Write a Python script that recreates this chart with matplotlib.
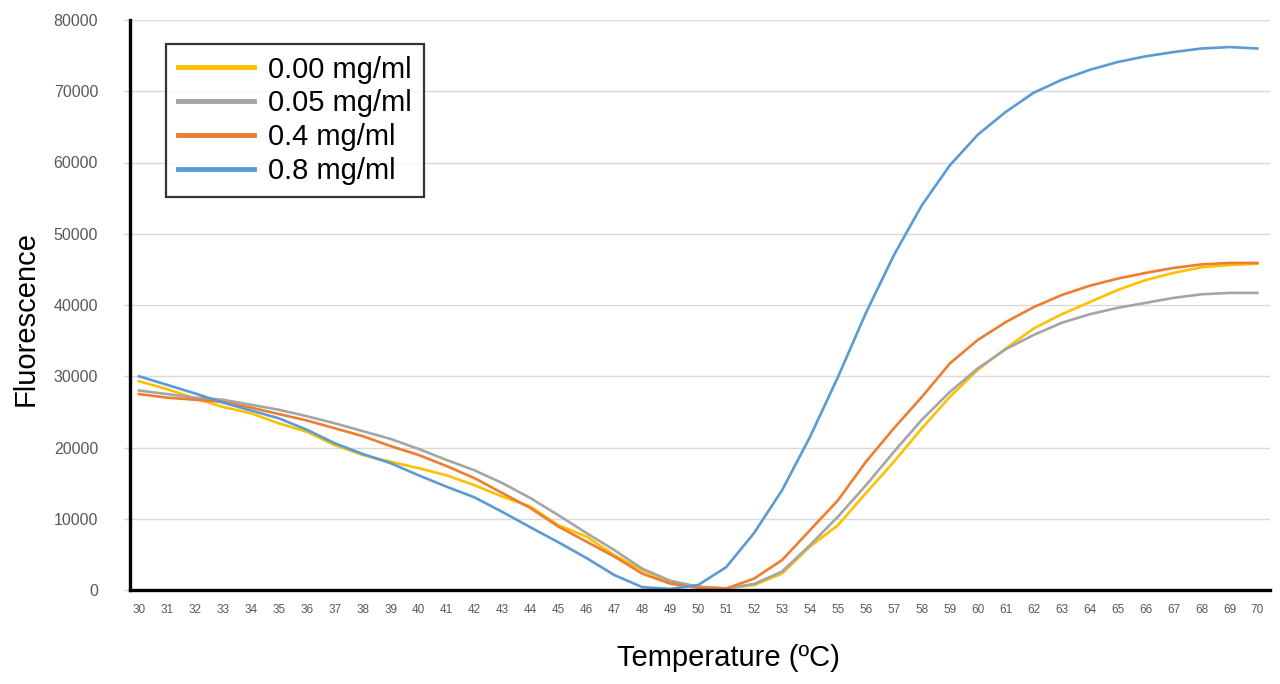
import matplotlib.pyplot as plt
import numpy as np

plt.rcParams['font.family'] = ['Liberation Sans', 'DejaVu Sans']

temps = np.arange(30, 71)

# 0.00 mg/ml
c000 = [29300, 28200, 26900, 25700, 24800, 23400, 22200, 20350, 18950, 18000,
        17100, 16100, 14700, 13100, 11700, 9100, 7500, 4900, 2800, 1150,
        450, 230, 700, 2300, 6100, 9100, 13600, 18000, 22700, 27100,
        30900, 33900, 36700, 38700, 40400, 42100, 43500, 44500, 45300, 45600, 45800]
# 0.05 mg/ml
c005 = [28000, 27500, 27000, 26700, 26000, 25300, 24400, 23400, 22300, 21200,
        19800, 18250, 16800, 15000, 12900, 10500, 8000, 5600, 3000, 1300,
        450, 230, 850, 2600, 6300, 10300, 14700, 19400, 23900, 27800,
        31100, 33800, 35800, 37500, 38700, 39600, 40300, 41000, 41500, 41700, 41700]
# 0.4 mg/ml
c04 = [27500, 27000, 26700, 26400, 25600, 24700, 23800, 22700, 21600, 20200,
       18950, 17400, 15700, 13600, 11500, 8900, 6800, 4700, 2300, 900,
       300, 200, 1600, 4200, 8400, 12600, 18000, 22700, 27100, 31800,
       35100, 37600, 39700, 41400, 42700, 43700, 44500, 45200, 45700, 45900, 45900]
# 0.8 mg/ml
c08 = [30000, 28800, 27600, 26300, 25200, 24100, 22500, 20600, 19100, 17800,
       16100, 14500, 13000, 10950, 8800, 6700, 4500, 2100, 400, 150,
       700, 3200, 8000, 14000, 21500, 29900, 38900, 47000, 54000, 59600,
       63900, 67100, 69800, 71600, 73000, 74100, 74900, 75500, 76000, 76200, 76000]

labels = ['0.00 mg/ml', '0.05 mg/ml', '0.4 mg/ml', '0.8 mg/ml']
colors = ['#FFC000', '#A5A5A5', '#ED7D31', '#5B9BD5']

fig = plt.figure(figsize=(12.8, 6.84), dpi=100)
ax = fig.add_axes([130 / 1280, 1 - 590 / 684, 1140 / 1280, 570 / 684])

for ys, lab, col in zip([c000, c005, c04, c08], labels, colors):
    ax.plot(temps, ys, color=col, lw=1.9, label=lab)

ax.set_xlim(29.68, 70.45)
ax.set_ylim(0, 80000)
ax.set_xticks(temps)
ax.set_xticklabels([str(t) for t in temps], fontsize=8.5, color='#595959')
ax.set_yticks(np.arange(0, 80001, 10000))
ax.set_yticklabels([str(v) for v in range(0, 80001, 10000)], fontsize=11.5, color='#595959')
ax.tick_params(axis='x', length=0, pad=10)
ax.tick_params(axis='y', length=5, color='#d9d9d9', width=1, pad=18)
ax.grid(axis='y', color='#d9d9d9', lw=1)
ax.set_axisbelow(True)

for s in ['top', 'right']:
    ax.spines[s].set_visible(False)
for s in ['left', 'bottom']:
    ax.spines[s].set_linewidth(2.4)
    ax.spines[s].set_color('black')

ax.set_xlabel('Temperature (ºC)', fontsize=21)
ax.xaxis.set_label_coords((728 - 130) / 1140, -(658 - 590) / 570, transform=ax.transAxes)
ax.xaxis.label.set_va('center')
ax.set_ylabel('Fluorescence', fontsize=21)
ax.yaxis.set_label_coords(-(130 - 26) / 1140, (590 - 318) / 570, transform=ax.transAxes)
ax.yaxis.label.set_va('center')

leg = ax.legend(loc='upper left', bbox_to_anchor=(0.0316, 0.958), borderaxespad=0,
                fontsize=21, frameon=True, fancybox=False, edgecolor='black',
                handlelength=2.6, handletextpad=0.5, labelspacing=0.2,
                borderpad=0.4)
leg.get_frame().set_linewidth(1.6)
for h in leg.get_lines():
    h.set_linewidth(3.5)

fig.savefig('out.png', dpi=100)
